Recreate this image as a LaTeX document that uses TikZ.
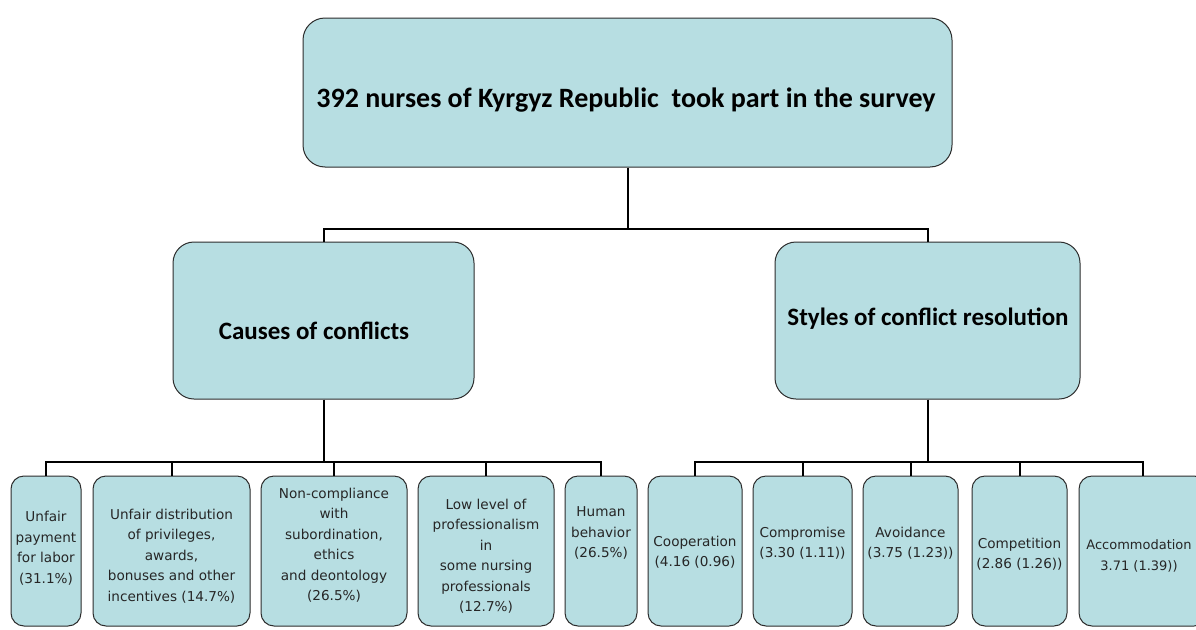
\documentclass[tikz,border=0pt]{standalone}
\usepackage{fontspec}
\setmainfont{Carlito}
\newfontfamily\leaffont{DejaVu Sans}
\definecolor{boxfill}{RGB}{183,222,226}
\definecolor{boxline}{RGB}{45,45,45}
\tikzset{
  card/.style={draw=boxline, line width=1pt, fill=boxfill, rounded corners=#1, inner sep=0pt},
  card/.default=13pt,
  headtext/.style={font=\bfseries\fontsize{28}{32}\selectfont, inner sep=0pt},
  midtext/.style={font=\bfseries\fontsize{25}{29}\selectfont, inner sep=0pt},
  leaftext/.style={font=\leaffont\fontsize{13.6}{20.5}\selectfont, align=center, inner sep=0pt, text=black!85},
  wire/.style={draw=black, line width=2pt}
}
\begin{document}
\begin{tikzpicture}[x=1pt,y=-1pt]
\path[use as bounding box, clip] (0,0) rectangle (1196,629);
\fill[white] (0,0) rectangle (1196,629);

% top level
\node[card=22pt, minimum width=649pt, minimum height=149pt] (top) at (627.5,92.5) {};
\node[headtext] (toptext) at (626,100) {392 nurses of Kyrgyz Republic\ \ took part in the survey};

% second level
\node[card=21pt, minimum width=301pt, minimum height=157pt] (causes) at (323.5,320.5) {};
\node[midtext] (causestext) at (314,331) {Causes of conflicts};
\node[card=21pt, minimum width=305pt, minimum height=157pt] (styles) at (927.5,320.5) {};
\node[midtext] (stylestext) at (928,319) {Styles of conflict resolution};

% leaves: causes
\node[card, minimum width=70pt, minimum height=150pt] (c1) at (46,551) {};
\node[card, minimum width=157pt, minimum height=150pt] (c2) at (171.5,551) {};
\node[card, minimum width=146pt, minimum height=150pt] (c3) at (334,551) {};
\node[card, minimum width=136pt, minimum height=150pt] (c4) at (486,551) {};
\node[card, minimum width=72pt, minimum height=150pt] (c5) at (601,551) {};

\node[leaftext] (c1t) at (46,548) {Unfair\\payment\\for labor\\(31.1\%)};
\node[leaftext] (c2t) at (171.5,556) {Unfair distribution\\of privileges,\\awards,\\bonuses and other\\incentives (14.7\%)};
\node[leaftext] (c3t) at (334,545) {Non-compliance\\with\\subordination,\\ethics\\and deontology\\(26.5\%)};
\node[leaftext] (c4t) at (486,556) {Low level of\\professionalism\\in\\some nursing\\professionals\\(12.7\%)};
\node[leaftext] (c5t) at (601,533) {Human\\behavior\\(26.5\%)};

% leaves: styles
\node[card, minimum width=94pt, minimum height=150pt] (r1) at (695,551) {};
\node[card, minimum width=99pt, minimum height=150pt] (r2) at (802.5,551) {};
\node[card, minimum width=95pt, minimum height=150pt] (r3) at (910.5,551) {};
\node[card, minimum width=95pt, minimum height=150pt] (r4) at (1019.5,551) {};
\node[card, minimum width=128pt, minimum height=150pt] (r5) at (1143,551) {};

\node[leaftext] (r1t) at (695,552) {Cooperation\\(4.16 (0.96)};
\node[leaftext] (r2t) at (802.5,543) {Compromise\\(3.30 (1.11))};
\node[leaftext] (r3t) at (910.5,543) {Avoidance\\(3.75 (1.23))};
\node[leaftext] (r4t) at (1019.5,554) {Competition\\(2.86 (1.26))};
\node[leaftext, font=\leaffont\fontsize{13}{20.5}\selectfont] (r5t) at (1139,556) {Accommodation\\3.71 (1.39))};

% connectors
\coordinate (bus0) at (627.5,229);
\coordinate (busL) at (323.5,462);
\coordinate (busR) at (927.5,462);

\draw[wire] (top.south) -- (bus0);
\draw[wire] (causes.north) |- (bus0) -| (styles.north);

\draw[wire] (causes.south) -- (busL);
\draw[wire] (c1.north) |- (busL) -| (c5.north);
\draw[wire] (c2.north) -- (c2.north |- busL);
\draw[wire] (c3.north) -- (c3.north |- busL);
\draw[wire] (c4.north) -- (c4.north |- busL);

\draw[wire] (styles.south) -- (busR);
\draw[wire] (r1.north) |- (busR) -| (r5.north);
\draw[wire] (r2.north) -- (r2.north |- busR);
\draw[wire] (r3.north) -- (r3.north |- busR);
\draw[wire] (r4.north) -- (r4.north |- busR);
\end{tikzpicture}
\end{document}
